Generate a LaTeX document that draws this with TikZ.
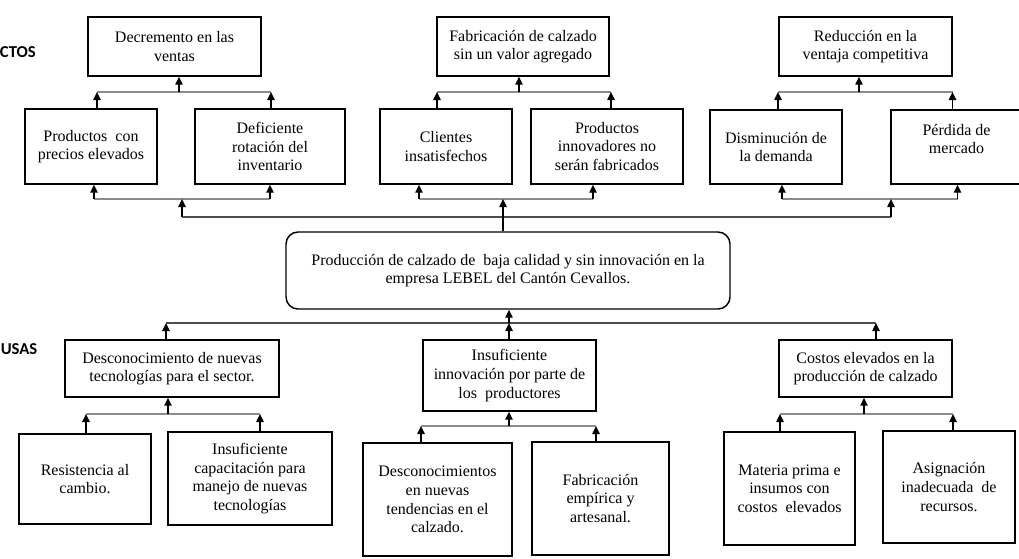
\documentclass[tikz,border=0pt]{standalone}
\usepackage{fontspec}
\setmainfont{Liberation Serif}
\newfontfamily\labelfont{Carlito}
\usetikzlibrary{calc,arrows.meta}

% a framed box given by its corners: options, name, x1, y1, x2, y2, text
\newcommand\boxnode[7]{%
  \pgfmathsetmacro\bxw{(#5-#3)*0.75}%
  \pgfmathsetmacro\bxh{(#6-#4)*0.75}%
  \node[box, #1, minimum width=\bxw pt, minimum height=\bxh pt]
    (#2) at ({(#3+#5)/2},{(#4+#6)/2}) {#7};%
}

% two boxes feeding one box above them through a shared bar
% #1 upper box, #2 its x offset, #3/#5 lower boxes, #4/#6 their x offsets, #7 bar height
\newcommand\feedpair[7]{%
  \path ($(#3.north)+(#4,0)$) coordinate (#3-up)
        ($(#5.north)+(#6,0)$) coordinate (#5-up)
        ($(#1.south)+(#2,0)$) coordinate (#1-dn)
        (0,#7) coordinate (#1-bar);
  \draw[hl] (#3-up |- #1-bar) -- (#5-up |- #1-bar);
  \draw[arr] (#3-up) -- (#3-up |- #1-bar);
  \draw[arr] (#5-up) -- (#5-up |- #1-bar);
  \draw[arr] (#1-dn |- #1-bar) -- (#1-dn);
}

\begin{document}
\begin{tikzpicture}[x=0.75pt,y=-0.75pt,
  box/.style={draw=black, line width=1.1pt, align=center, inner sep=0pt,
              font=\fontsize{12}{14}\selectfont},
  core/.style={rounded corners=9pt},
  txt/.style={align=center, inner sep=0pt, font=\fontsize{12}{14}\selectfont},
  arr/.style={draw=black, line width=1.1pt, -{Triangle[length=6pt,width=5.5pt]}},
  hl/.style={draw=black!45, line width=0.8pt},
  hld/.style={draw=black!70, line width=0.8pt},
  side/.style={font=\labelfont\bfseries\fontsize{12.5}{14}\selectfont, inner sep=0pt}
]
\useasboundingbox (0,0) rectangle (1019,558);

% side headings
\node[side, anchor=east] (hE) at (36,52) {CTOS};
\node[side, anchor=west] (hC) at (0.5,349) {USAS};

% effects: upper row
\boxnode{}{e1}{88}{17}{261}{76}{Decremento en las\\ventas}
\boxnode{}{e2}{437}{17}{609}{76}{Fabricación de calzado\\sin un valor agregado}
\boxnode{}{e3}{779}{17}{952}{76}{Reducción en la\\ventaja competitiva}

% effects: lower row
\boxnode{}{e1a}{25}{109}{157}{184}{Productos\ \ con\\precios elevados}
\boxnode{}{e1b}{195}{109}{345}{184}{Deficiente\\rotación del\\inventario}
\boxnode{}{e2a}{380}{109}{512}{184}{Clientes\\insatisfechos}
\boxnode{}{e2b}{531}{109}{683}{184}{Productos\\innovadores no\\serán fabricados}
\boxnode{}{e3a}{710}{110}{842}{184}{Disminución de\\la demanda}
\boxnode{}{e3b}{891}{110}{1022}{184}{}
\node[txt] (e3bt) at ($(e3b.center)+(0,-8)$) {Pérdida de\\mercado};

% central problem
\boxnode{core}{core}{286}{232}{730}{309}
  {Producción de calzado de\ \ baja calidad y sin innovación en la\\empresa LEBEL del Cantón Cevallos.}

% causes
\boxnode{}{c1}{65}{340}{279}{397}{Desconocimiento de nuevas\\tecnologías para el sector.}
\boxnode{}{c2}{423}{340}{596}{411}{Insuficiente\\innovación por parte de\\los\ \ productores}
\boxnode{}{c3}{779}{340}{952}{397}{Costos elevados en la\\producción de calzado}

\boxnode{}{c1a}{19}{434}{151}{524}{Resistencia al\\cambio.}
\boxnode{}{c1b}{168}{432}{332}{525}{Insuficiente\\capacitación para\\manejo de nuevas\\tecnologías}
\boxnode{}{c2a}{363}{443}{512}{556}{Desconocimientos\\en nuevas\\tendencias en el\\calzado.}
\boxnode{}{c2b}{532}{442}{669}{555}{Fabricación\\empírica y\\artesanal.}
\boxnode{}{c3a}{724}{432}{855}{545}{Materia prima e\\insumos con\\costos\ \ elevados}
\boxnode{}{c3b}{883}{431}{1015}{543}{Asignación\\inadecuada\ \ de\\recursos.}

% effect trees
\feedpair{e1}{4.5}{e1a}{6}{e1b}{1}{92}
\feedpair{e2}{-4}{e2a}{-9}{e2b}{4}{92}
\feedpair{e3}{-6.5}{e3a}{2}{e3b}{-4}{92}

% from the central problem up to the effects
\coordinate (fbar) at (0,199);
\coordinate (fl) at (182,217);
\coordinate (fr) at (891,217);
\path ($(e1a.south)+(3,0)$) coordinate (e1a-dn)
      ($(e1b.south)+(0,0)$) coordinate (e1b-dn)
      ($(e2a.south)+(-27,0)$) coordinate (e2a-dn)
      ($(e2b.south)+(-14,0)$) coordinate (e2b-dn)
      ($(e3a.south)+(6,0)$) coordinate (e3a-dn)
      ($(e3b.south)+(1,0)$) coordinate (e3b-dn)
      ($(core.north)+(-5,0)$) coordinate (core-up);
\draw[hl] (e1a-dn |- fbar) -- (e1b-dn |- fbar);
\draw[hl] (e2a-dn |- fbar) -- (e2b-dn |- fbar);
\draw[hl] (e3a-dn |- fbar) -- (e3b-dn |- fbar);
\foreach \p in {e1a-dn,e1b-dn,e2a-dn,e2b-dn,e3a-dn,e3b-dn}
  \draw[arr] (\p |- fbar) -- (\p);
\draw[hld] (fl) -- (fr);
\draw[arr] (fl) -- (fl |- fbar);
\draw[arr] (fr) -- (fr |- fbar);
\draw[arr] (core-up) -- (core-up |- fbar);

% from the causes up to the central problem
\coordinate (cbar) at (0,323);
\path ($(c1.north)+(-6,0)$) coordinate (c1-up)
      ($(c2.north)+(-0.5,0)$) coordinate (c2-up)
      ($(c3.north)+(10.5,0)$) coordinate (c3-up)
      ($(core.south)+(1,0)$) coordinate (core-dn);
\draw[hld] (c1-up |- cbar) -- (c3-up |- cbar);
\draw[arr] (c1-up) -- (c1-up |- cbar);
\draw[arr] (c2-up) -- (c2-up |- cbar);
\draw[arr] (c3-up) -- (c3-up |- cbar);
\draw[arr] (core-dn |- cbar) -- (core-dn);

% cause trees
\feedpair{c1}{-4}{c1a}{1}{c1b}{10}{414}
\feedpair{c2}{-0.5}{c2a}{-16.5}{c2b}{-4.5}{426}
\feedpair{c3}{-1.5}{c3a}{-9.5}{c3b}{4}{414}
\end{tikzpicture}
\end{document}
